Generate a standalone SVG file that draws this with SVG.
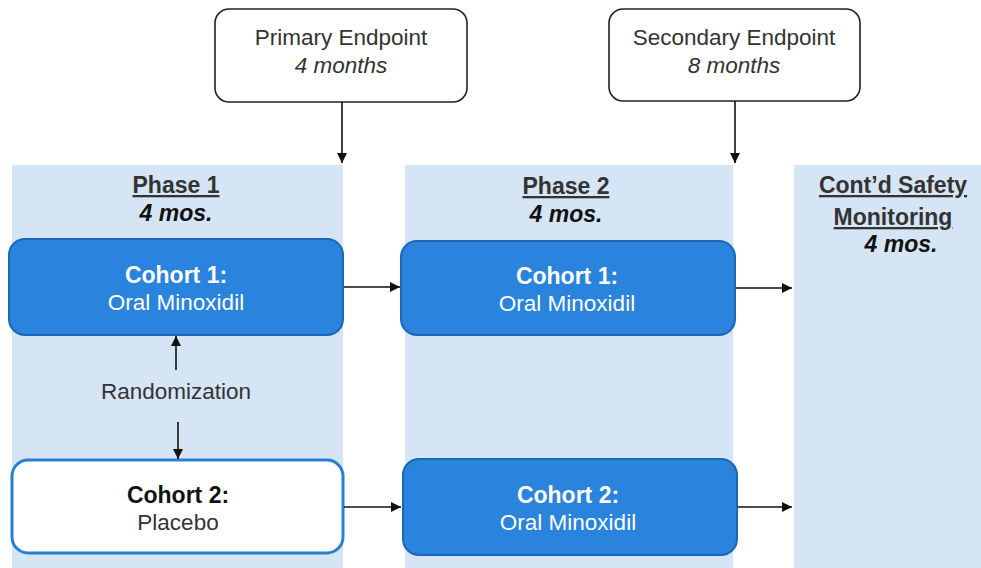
<svg xmlns="http://www.w3.org/2000/svg" width="981" height="568" viewBox="0 0 981 568">
  <defs>
    <marker id="arrow" viewBox="0 0 10 10" refX="10" refY="5" markerWidth="10" markerHeight="10" markerUnits="userSpaceOnUse" orient="auto">
      <path d="M0,0 L10,5 L0,10 z" fill="#111"/>
    </marker>
    <style>
      .panel { fill: #D5E5F6; }
      .endpoint { fill: #fff; stroke: #222; stroke-width: 1.6; }
      .solid { fill: #2A83DC; stroke: #1B67B3; stroke-width: 2; }
      .open { fill: #fff; stroke: #2A7ED0; stroke-width: 3; }
      .t { font-family: "Liberation Sans", Arial, sans-serif; font-size: 22.5px; text-anchor: middle; fill: #333; }
      .b { font-weight: bold; font-size: 23px; }
      .i { font-style: italic; }
      .u { text-decoration: underline; }
      .w { fill: #fff; }
      .k { fill: #111; }
      .conn { stroke: #111; stroke-width: 1.6; fill: none; marker-end: url(#arrow); }
    </style>
  </defs>

  <rect width="981" height="568" fill="#fff"/>

  <!-- phase columns -->
  <rect class="panel" x="12" y="165" width="331" height="403"/>
  <rect class="panel" x="405" y="165" width="328" height="403"/>
  <rect class="panel" x="794" y="165" width="187" height="403"/>

  <g id="primary-endpoint">
    <rect class="endpoint" x="215" y="9" width="252" height="93" rx="14"/>
    <text class="t" x="341" y="45">Primary Endpoint</text>
    <text class="t i" x="341" y="73">4 months</text>
  </g>

  <g id="secondary-endpoint">
    <rect class="endpoint" x="609" y="9" width="251" height="92" rx="14"/>
    <text class="t" x="734" y="45">Secondary Endpoint</text>
    <text class="t i" x="734" y="73">8 months</text>
  </g>

  <g id="phase1-header">
    <text class="t b u" x="176" y="193">Phase 1</text>
    <text class="t b i k" x="176" y="221">4 mos.</text>
  </g>

  <g id="phase2-header">
    <text class="t b u" x="566" y="194">Phase 2</text>
    <text class="t b i k" x="566" y="222">4 mos.</text>
  </g>

  <g id="safety-header">
    <text class="t b u" x="893" y="193">Cont’d Safety</text>
    <text class="t b u" x="893" y="225">Monitoring</text>
    <text class="t b i k" x="901" y="252">4 mos.</text>
  </g>

  <g id="p1-cohort1">
    <rect class="solid" x="9" y="239" width="334" height="96" rx="16"/>
    <text class="t b w" x="176" y="283">Cohort 1:</text>
    <text class="t w" x="176" y="310">Oral Minoxidil</text>
  </g>

  <g id="randomization">
    <text class="t" x="176" y="399">Randomization</text>
  </g>

  <g id="p1-cohort2">
    <rect class="open" x="12" y="460" width="331" height="93" rx="16"/>
    <text class="t b k" x="178" y="503">Cohort 2:</text>
    <text class="t" x="178" y="530">Placebo</text>
  </g>

  <g id="p2-cohort1">
    <rect class="solid" x="401" y="241" width="334" height="94" rx="16"/>
    <text class="t b w" x="567" y="284">Cohort 1:</text>
    <text class="t w" x="567" y="311">Oral Minoxidil</text>
  </g>

  <g id="p2-cohort2">
    <rect class="solid" x="403" y="459" width="334" height="96" rx="16"/>
    <text class="t b w" x="568" y="503">Cohort 2:</text>
    <text class="t w" x="568" y="530">Oral Minoxidil</text>
  </g>

  <g id="connectors">
    <line class="conn" x1="342" y1="102" x2="342" y2="163"/>
    <line class="conn" x1="735" y1="101" x2="735" y2="163"/>
    <line class="conn" x1="176" y1="370" x2="176" y2="336"/>
    <line class="conn" x1="178" y1="422" x2="178" y2="459"/>
    <line class="conn" x1="344" y1="287" x2="400" y2="287"/>
    <line class="conn" x1="736" y1="288" x2="792" y2="288"/>
    <line class="conn" x1="344" y1="507" x2="401" y2="507"/>
    <line class="conn" x1="738" y1="507" x2="792" y2="507"/>
  </g>
</svg>
